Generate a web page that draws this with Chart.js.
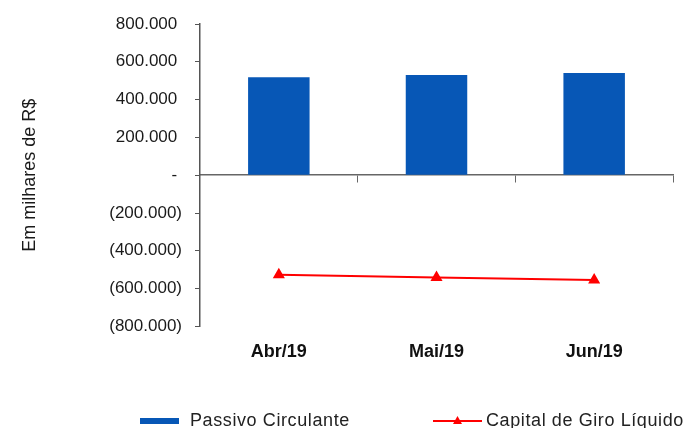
<!DOCTYPE html>
<html>
<head>
<meta charset="utf-8">
<script src="https://cdn.jsdelivr.net/npm/chart.js@4/dist/chart.umd.min.js"></script>
<style>
  body { margin: 0; background: #fff; }
  #wrap { width: 691px; height: 428px; }
</style>
</head>
<body>
<div id="wrap"><canvas id="chart"></canvas></div>
<script>
// dados (em milhares de R$)
const meses = ['Abr/19', 'Mai/19', 'Jun/19'];
const passivoCirculante = [518000, 530000, 541000];
const capitalGiroLiquido = [-527000, -541000, -555000];
const yTicks = [-800000, -600000, -400000, -200000, 0, 200000, 400000, 600000, 800000];

const azul = '#0757B6';
const vermelho = '#FF0000';

const fmt = (v) => {
    if (v === 0) return '- ';
    const s = Math.abs(v).toString().replace(/\B(?=(\d{3})+(?!\d))/g, '.');
    return v < 0 ? '(' + s + ')' : s + ' ';
};

// legenda desenhada na parte de baixo
const legendaPlugin = {
    id: 'legenda',
    afterDraw(chart) {
        const ctx = chart.ctx;
        const y = 421;
        ctx.save();
        ctx.font = '18px Arial, "Liberation Sans", sans-serif';
        ctx.letterSpacing = '0.6px';
        ctx.textBaseline = 'middle';
        const ds = chart.data.datasets;
        const barra = ds.find(d => d.type !== 'line');
        const linha = ds.find(d => d.type === 'line');
        // barra
        ctx.fillStyle = barra.backgroundColor;
        ctx.fillRect(140, y - 3, 39, 6);
        ctx.fillStyle = '#222';
        ctx.fillText(barra.label, 190, y);
        // linha
        ctx.strokeStyle = linha.borderColor;
        ctx.lineWidth = 2;
        ctx.beginPath();
        ctx.moveTo(433, y);
        ctx.lineTo(482, y);
        ctx.stroke();
        ctx.fillStyle = linha.borderColor;
        ctx.beginPath();
        ctx.moveTo(457.5, y - 5);
        ctx.lineTo(462, y + 3);
        ctx.lineTo(453, y + 3);
        ctx.closePath();
        ctx.fill();
        ctx.fillStyle = '#222';
        ctx.fillText(linha.label, 486, y);
        ctx.restore();
    }
};

new Chart(document.getElementById('chart'), {
    type: 'bar',
    data: {
        labels: meses,
        datasets: [
            {
                label: 'Passivo Circulante',
                data: passivoCirculante,
                backgroundColor: azul,
                barPercentage: 0.39,
                categoryPercentage: 1,
                order: 1,
            },
            {
                type: 'line',
                label: 'Capital de Giro Líquido',
                data: capitalGiroLiquido,
                borderColor: vermelho,
                backgroundColor: vermelho,
                borderWidth: 2,
                pointStyle: 'triangle',
                pointRadius: 5,
                pointBackgroundColor: vermelho,
                pointBorderColor: vermelho,
                order: 0,
            },
        ],
    },
    options: {
        responsive: true,
        maintainAspectRatio: false,
        animation: false,
        layout: { padding: { left: 0, right: 18, top: 24, bottom: 50 } },
        plugins: {
            legend: { display: false },
            tooltip: { enabled: false },
        },
        scales: {
            x: {
                grid: { display: false, drawTicks: false },
                border: { display: false },
                ticks: {
                    padding: 15,
                    color: '#111',
                    font: { family: 'Arial, "Liberation Sans", sans-serif', size: 18, weight: 'bold' },
                },
            },
            x2: {
                type: 'category',
                labels: meses,
                position: { y: 0 },
                offset: true,
                grid: { offset: true, drawOnChartArea: false, drawTicks: true, tickLength: 7, color: '#666' },
                border: { color: '#666', width: 1.5 },
                ticks: { display: false },
            },
            y: {
                min: -800000,
                max: 800000,
                afterBuildTicks: (axis) => { axis.ticks = yTicks.map(v => ({ value: v })); },
                afterFit: (axis) => { axis.width = 200; },
                grid: { drawOnChartArea: false, tickLength: 5, color: '#555' },
                border: { color: '#555', width: 1.5 },
                ticks: {
                    padding: 13,
                    color: '#1a1a1a',
                    font: { family: 'Arial, "Liberation Sans", sans-serif', size: 17 },
                    callback: (v) => fmt(v),
                },
                title: {
                    display: true,
                    text: 'Em milhares de R$',
                    color: '#1a1a1a',
                    padding: { top: 19, bottom: 0 },
                    font: { family: 'Arial, "Liberation Sans", sans-serif', size: 18 },
                },
            },
        },
    },
    plugins: [legendaPlugin],
});
</script>
</body>
</html>
